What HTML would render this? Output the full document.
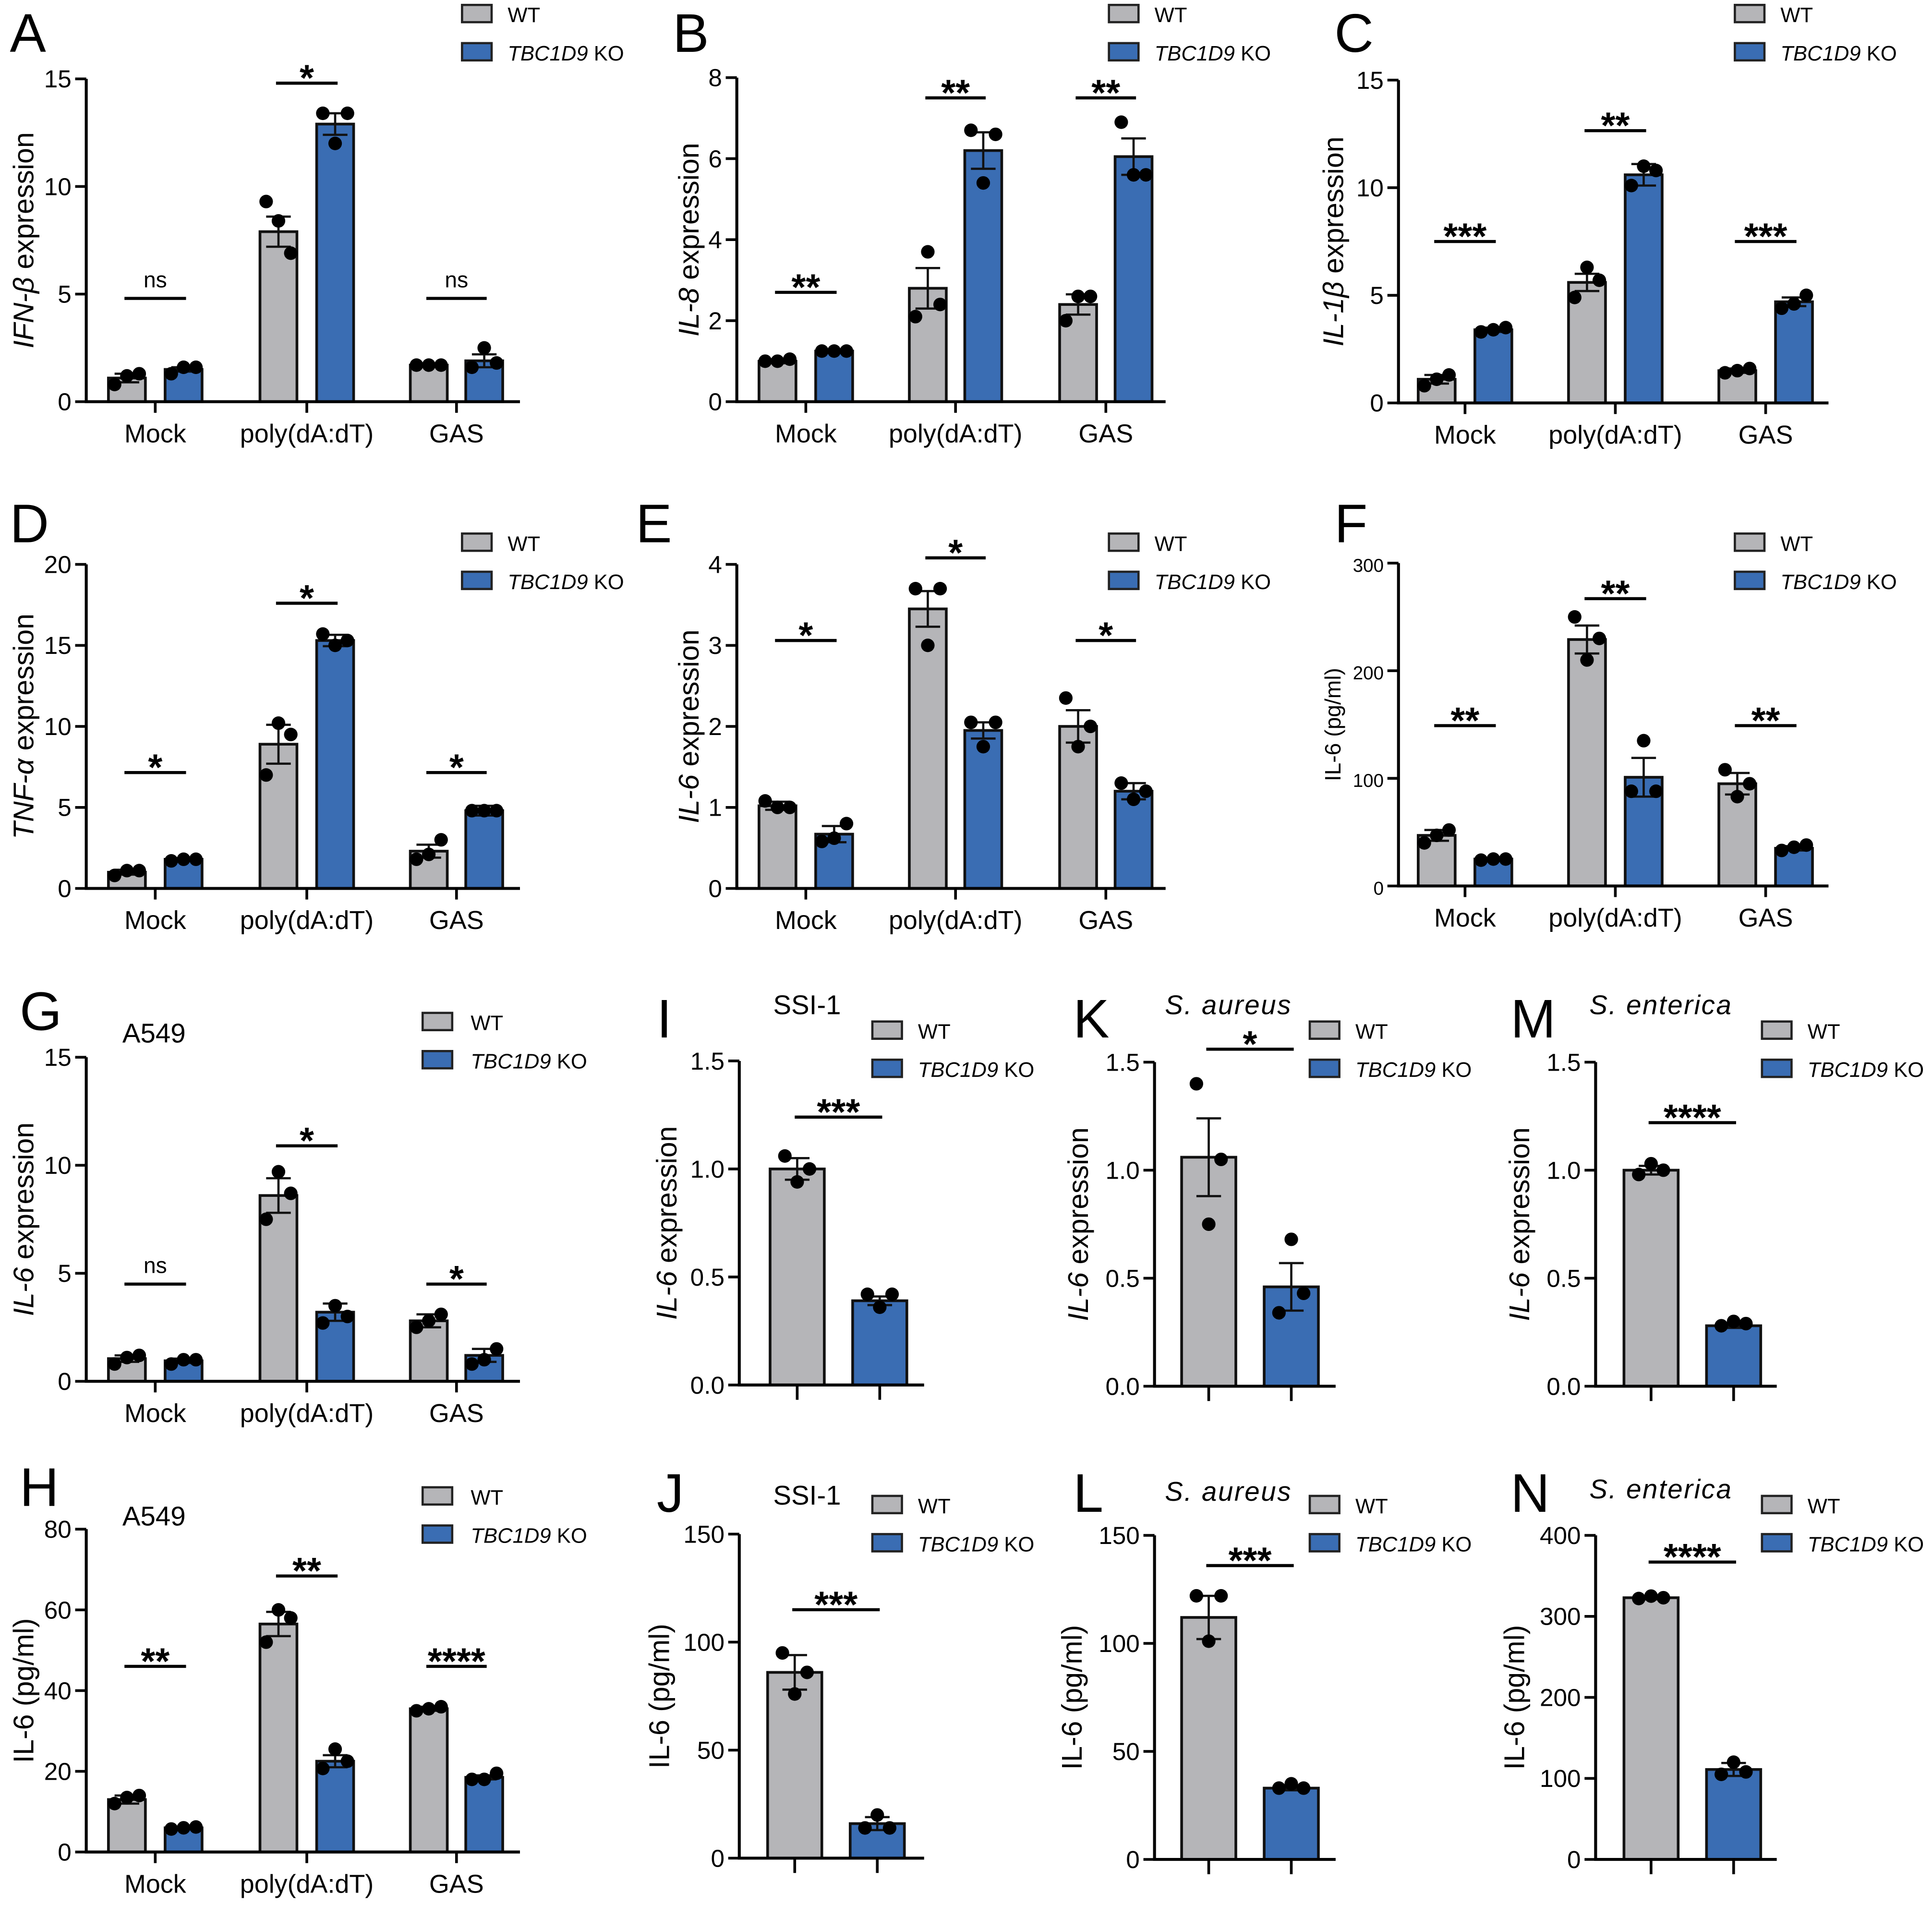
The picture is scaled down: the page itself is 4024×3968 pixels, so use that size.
<!DOCTYPE html>
<html><head><meta charset="utf-8">
<style>
html,body{margin:0;padding:0;background:#fff;}
svg{display:block;}
text{font-family:"Liberation Sans",Arial,sans-serif;fill:#000;}
</style></head>
<body>
<svg id="fig" width="4024" height="3968" viewBox="0 0 1568 1546" preserveAspectRatio="none" xmlns="http://www.w3.org/2000/svg"></svg>
<script>
// ---- data arrays ----
const cats3 = ["Mock","poly(dA:dT)","GAS"];
const A_wt=[1.1,7.9,1.7], A_ko=[1.5,12.9,1.9];
const A_wtPts=[[0.8,1.2,1.3],[9.3,8.4,6.9],[1.7,1.7,1.7]], A_koPts=[[1.3,1.6,1.6],[13.4,12.0,13.4],[1.6,2.5,1.8]];
const A_wtErr=[0.2,0.7,0.05], A_koErr=[0.1,0.5,0.3];
const A_sig=["ns","*","ns"], A_sigY=[4.8,14.8,4.8];
const B_wt=[1.0,2.8,2.4], B_ko=[1.25,6.2,6.05];
const B_wtPts=[[1,1,1.05],[2.1,3.7,2.4],[2.0,2.6,2.6]], B_koPts=[[1.25,1.25,1.25],[6.7,5.4,6.6],[6.9,5.6,5.6]];
const B_wtErr=[0.05,0.5,0.25], B_koErr=[0.03,0.45,0.45];
const B_sig=["**","**","**"], B_sigY=[2.7,7.5,7.5];
const C_wt=[1.1,5.6,1.5], C_ko=[3.4,10.6,4.7];
const C_wtPts=[[0.8,1.1,1.3],[4.9,6.3,5.7],[1.4,1.5,1.6]], C_koPts=[[3.3,3.4,3.5],[10.1,11.0,10.8],[4.4,4.6,5.0]];
const C_wtErr=[0.2,0.4,0.1], C_koErr=[0.1,0.5,0.2];
const C_sig=["***","**","***"], C_sigY=[7.5,12.65,7.5];
const D_wt=[1.0,8.9,2.3], D_ko=[1.8,15.3,4.8];
const D_wtPts=[[0.8,1.1,1.1],[7,10.2,9.5],[1.8,2.1,3.0]], D_koPts=[[1.7,1.8,1.8],[15.7,15.0,15.3],[4.8,4.8,4.8]];
const D_wtErr=[0.15,1.2,0.4], D_koErr=[0.07,0.35,0.3];
const D_sig=["*","*","*"], D_sigY=[7.15,17.6,7.15];
const E_wt=[1.02,3.45,2.0], E_ko=[0.67,1.95,1.2];
const E_wtPts=[[1.08,1.0,1.0],[3.7,3.0,3.7],[2.35,1.75,2.0]], E_koPts=[[0.58,0.62,0.8],[2.05,1.75,2.05],[1.3,1.1,1.2]];
const E_wtErr=[0.05,0.22,0.2], E_koErr=[0.1,0.1,0.1];
const E_sig=["*","*","*"], E_sigY=[3.06,4.08,3.06];
const F_wt=[47,229,95], F_ko=[25,101,35];
const F_wtPts=[[40,47,52],[250,210,230],[108,83,95]], F_koPts=[[24,25,25],[88,135,88],[33,36,38]];
const F_wtErr=[5,13,10], F_koErr=[1,18,2];
const F_sig=["**","**","**"], F_sigY=[149,267,149];
const G_wt=[1.05,8.6,2.8], G_ko=[0.95,3.2,1.2];
const G_wtPts=[[0.8,1.1,1.2],[7.5,9.7,8.7],[2.5,2.8,3.1]], G_koPts=[[0.8,1.0,1.0],[2.7,3.5,3.0],[0.8,1.0,1.5]];
const G_wtErr=[0.15,0.8,0.3], G_koErr=[0.1,0.4,0.3];
const G_sig=["ns","*","*"], G_sigY=[4.5,10.9,4.5];
const H_wt=[13,56.5,35.5], H_ko=[6,22.5,18.5];
const H_wtPts=[[12,13.5,14],[52,60,58],[35,35.5,36]], H_koPts=[[5.7,6,6.2],[20.7,25.5,22.5],[18,18,19.5]];
const H_wtErr=[1,3,0.5], H_koErr=[0.2,1.5,0.5];
const H_sig=["**","**","****"], H_sigY=[46,68.4,46];
const I_wt=[1.0], I_ko=[0.39], I_wtPts=[[1.06,0.94,1.0]], I_koPts=[[0.42,0.36,0.42]], I_wtErr=[0.05], I_koErr=[0.02], I_sig=["***"], I_sigY=[1.24];
const J_wt=[86], J_ko=[16], J_wtPts=[[95,76,86]], J_koPts=[[14,20,14]], J_wtErr=[8], J_koErr=[3], J_sig=["***"], J_sigY=[115];
const K_wt=[1.06], K_ko=[0.46], K_wtPts=[[1.4,0.75,1.05]], K_koPts=[[0.34,0.68,0.43]], K_wtErr=[0.18], K_koErr=[0.11], K_sig=["*"], K_sigY=[1.56];
const L_wt=[112], L_ko=[33], L_wtPts=[[122,101,122]], L_koPts=[[33,35,33]], L_wtErr=[10], L_koErr=[1], L_sig=["***"], L_sigY=[136];
const M_wt=[1.0], M_ko=[0.28], M_wtPts=[[0.98,1.03,1.0]], M_koPts=[[0.28,0.3,0.29]], M_wtErr=[0.02], M_koErr=[0.01], M_sig=["****"], M_sigY=[1.22];
const N_wt=[323], N_ko=[111], N_wtPts=[[322,325,323]], N_koPts=[[105,120,108]], N_wtErr=[2], N_koErr=[8], N_sig=["****"], N_sigY=[367];
const ticksA=[0,5,10,15], ticksB=[0,2,4,6,8], ticksD=[0,5,10,15,20], ticksE=[0,1,2,3,4], ticksF=[0,100,200,300];
const ticksH=[0,20,40,60,80], ticksI=[0,0.5,1.0,1.5], ticksJ=[0,50,100,150], ticksN=[0,100,200,300,400];

const NS="http://www.w3.org/2000/svg";
const svg=document.getElementById('fig');
function mk(tag,attrs,parent){const e=document.createElementNS(NS,tag);for(const k in attrs)e.setAttribute(k,attrs[k]);(parent||svg).appendChild(e);return e;}

const P3=[[103,149],[226,272],[348,393]];
const PB=[[631,677],[753,798],[875,920]];
const PC=[[1166,1212],[1288,1334],[1410,1456]];
const panels=[
 {id:"A",ax:70,yt:64,yb:326,xe:422,ymax:15,ticks:ticksA,dec:0,pos:P3,wt:A_wt,ko:A_ko,wp:A_wtPts,kp:A_koPts,we:A_wtErr,ke:A_koErr,sig:A_sig,sy:A_sigY,lg:[375,412,11],L:[8,42],yl:[19,"IFN-β"," expression"],cats:cats3,bw:30},
 {id:"B",ax:598,yt:63,yb:326,xe:946,ymax:8,ticks:ticksB,dec:0,pos:PB,wt:B_wt,ko:B_ko,wp:B_wtPts,kp:B_koPts,we:B_wtErr,ke:B_koErr,sig:B_sig,sy:B_sigY,lg:[900,937,11],L:[546,42],yl:[559,"IL-8"," expression"],cats:cats3,bw:30},
 {id:"C",ax:1135,yt:65,yb:327,xe:1484,ymax:15,ticks:ticksA,dec:0,pos:PC,wt:C_wt,ko:C_ko,wp:C_wtPts,kp:C_koPts,we:C_wtErr,ke:C_koErr,sig:C_sig,sy:C_sigY,lg:[1408,1445,11],L:[1083,42],yl:[1082,"IL-1β"," expression"],cats:cats3,bw:30},
 {id:"D",ax:70,yt:458,yb:721,xe:422,ymax:20,ticks:ticksD,dec:0,pos:P3,wt:D_wt,ko:D_ko,wp:D_wtPts,kp:D_koPts,we:D_wtErr,ke:D_koErr,sig:D_sig,sy:D_sigY,lg:[375,412,440],L:[8,440],yl:[19,"TNF-α"," expression"],cats:cats3,bw:30},
 {id:"E",ax:598,yt:458,yb:721,xe:946,ymax:4,ticks:ticksE,dec:0,pos:PB,wt:E_wt,ko:E_ko,wp:E_wtPts,kp:E_koPts,we:E_wtErr,ke:E_koErr,sig:E_sig,sy:E_sigY,lg:[900,937,440],L:[516,440],yl:[559,"IL-6"," expression"],cats:cats3,bw:30},
 {id:"F",ax:1135,yt:457,yb:719,xe:1484,ymax:300,ticks:ticksF,dec:0,pos:PC,wt:F_wt,ko:F_ko,wp:F_wtPts,kp:F_koPts,we:F_wtErr,ke:F_koErr,sig:F_sig,sy:F_sigY,lg:[1408,1445,440],L:[1083,440],yl:[1080,"","IL-6 (pg/ml)"],cats:cats3,bw:30,small:true},
 {id:"G",ax:70,yt:858,yb:1121,xe:422,ymax:15,ticks:ticksA,dec:0,pos:P3,wt:G_wt,ko:G_ko,wp:G_wtPts,kp:G_koPts,we:G_wtErr,ke:G_koErr,sig:G_sig,sy:G_sigY,lg:[343,382,829],L:[16,836],yl:[19,"IL-6"," expression"],cats:cats3,bw:30,title:["A549",125,846,false]},
 {id:"H",ax:70,yt:1241,yb:1503,xe:422,ymax:80,ticks:ticksH,dec:0,pos:P3,wt:H_wt,ko:H_ko,wp:H_wtPts,kp:H_koPts,we:H_wtErr,ke:H_koErr,sig:H_sig,sy:H_sigY,lg:[343,382,1214],L:[16,1222],yl:[19,"","IL-6 (pg/ml)"],cats:cats3,bw:30,title:["A549",125,1238,false]},
 {id:"I",ax:600,yt:861,yb:1124,xe:750,ymax:1.5,ticks:ticksI,dec:1,pos:[[647,714]],wt:I_wt,ko:I_ko,wp:I_wtPts,kp:I_koPts,we:I_wtErr,ke:I_koErr,sig:I_sig,sy:I_sigY,lg:[708,745,836],L:[533,842],yl:[541,"IL-6"," expression"],cats:null,bw:44,title:["SSI-1",655,823,false]},
 {id:"J",ax:600,yt:1245,yb:1508,xe:750,ymax:150,ticks:ticksJ,dec:0,pos:[[645,712]],wt:J_wt,ko:J_ko,wp:J_wtPts,kp:J_koPts,we:J_wtErr,ke:J_koErr,sig:J_sig,sy:J_sigY,lg:[708,745,1221],L:[533,1227],yl:[535,"","IL-6 (pg/ml)"],cats:null,bw:44,title:["SSI-1",655,1221,false]},
 {id:"K",ax:937,yt:862,yb:1125,xe:1084,ymax:1.5,ticks:ticksI,dec:1,pos:[[981,1048]],wt:K_wt,ko:K_ko,wp:K_wtPts,kp:K_koPts,we:K_wtErr,ke:K_koErr,sig:K_sig,sy:K_sigY,lg:[1063,1100,836],L:[871,842],yl:[875,"IL-6"," expression"],cats:null,bw:44,title:["S. aureus",997,823,true]},
 {id:"L",ax:937,yt:1246,yb:1509,xe:1084,ymax:150,ticks:ticksJ,dec:0,pos:[[981,1048]],wt:L_wt,ko:L_ko,wp:L_wtPts,kp:L_koPts,we:L_wtErr,ke:L_koErr,sig:L_sig,sy:L_sigY,lg:[1063,1100,1221],L:[871,1227],yl:[870,"","IL-6 (pg/ml)"],cats:null,bw:44,title:["S. aureus",997,1218,true]},
 {id:"M",ax:1295,yt:862,yb:1125,xe:1442,ymax:1.5,ticks:ticksI,dec:1,pos:[[1340,1407]],wt:M_wt,ko:M_ko,wp:M_wtPts,kp:M_koPts,we:M_wtErr,ke:M_koErr,sig:M_sig,sy:M_sigY,lg:[1430,1467,836],L:[1226,842],yl:[1233,"IL-6"," expression"],cats:null,bw:44,title:["S. enterica",1348,823,true]},
 {id:"N",ax:1295,yt:1246,yb:1509,xe:1442,ymax:400,ticks:ticksN,dec:0,pos:[[1340,1407]],wt:N_wt,ko:N_ko,wp:N_wtPts,kp:N_koPts,we:N_wtErr,ke:N_koErr,sig:N_sig,sy:N_sigY,lg:[1430,1467,1221],L:[1226,1227],yl:[1229,"","IL-6 (pg/ml)"],cats:null,bw:44,title:["S. enterica",1348,1216,true]}
];
const jit=[-10,0,10];
panels.forEach(p=>{
 const g=mk('g',{});
 
 
 const y=v=>p.yb-(v/p.ymax)*(p.yb-p.yt);
 const lt=mk('text',{x:p.L[0],y:p.L[1],'font-size':44},g); lt.textContent=p.id;
 
 
 if(p.title){const t=mk('text',{x:p.title[1],y:p.title[2],'font-size':22,'text-anchor':'middle','font-style':p.title[3]?'italic':'normal','letter-spacing':p.title[3]?'1':'0'},g);t.textContent=p.title[0];
  
  }
 p.pos.forEach((xy,i)=>{
  [[p.wt[i],p.wp[i],p.we[i],xy[0],'#b5b5b8','wt'],[p.ko[i],p.kp[i],p.ke[i],xy[1],'#3a6db3','ko']].forEach(b=>{
   const [v,pts,e,cx,col,nm]=b;
   const r=mk('rect',{x:cx-p.bw/2,y:y(v),width:p.bw,height:p.yb-y(v),fill:col,stroke:'#111','stroke-width':2.2},g);
   
   
   const eb=mk('path',{d:`M${cx} ${y(v+e)}V${y(v-e)}M${cx-10} ${y(v+e)}H${cx+10}M${cx-10} ${y(v-e)}H${cx+10}`,stroke:'#111','stroke-width':1.8,fill:'none'},g);
   
   
   pts.forEach((pv,k)=>{const c=mk('circle',{cx:cx+jit[k],cy:y(pv),r:5.5,fill:'#000'},g);
    
    });
  });
  const sl=mk('line',{x1:xy[0]-2,x2:xy[1]+2,y1:y(p.sy[i]),y2:y(p.sy[i]),stroke:'#000','stroke-width':2.5},g);
  
  
  const isNs=p.sig[i]=="ns";
  const st=mk('text',{x:(xy[0]+xy[1])/2,y:y(p.sy[i])+(isNs?-9:6),'font-size':isNs?18:30,'font-weight':isNs?'normal':'bold','text-anchor':'middle'},g);
  st.textContent=p.sig[i];
  
  
  if(p.cats){
   const cx=(xy[0]+xy[1])/2;
   mk('line',{x1:cx,x2:cx,y1:p.yb,y2:p.yb+9,stroke:'#000','stroke-width':2.2},g);
   const ct=mk('text',{x:cx,y:p.yb+33,'font-size':21,'text-anchor':'middle'},g);ct.textContent=p.cats[i];
   
   
  } else {
   xy.forEach(cx=>mk('line',{x1:cx,x2:cx,y1:p.yb,y2:p.yb+12,stroke:'#000','stroke-width':2.2},g));
  }
 });
 const ax=mk('path',{d:`M${p.ax} ${p.yt}V${p.yb}H${p.xe}`,stroke:'#000','stroke-width':2.4,fill:'none'},g);
 
 
 p.ticks.forEach(t=>{
  mk('line',{x1:p.ax-9,x2:p.ax,y1:y(t),y2:y(t),stroke:'#000','stroke-width':2.2},g);
  const tl=mk('text',{x:p.ax-12,y:y(t)+7,'font-size':p.small?15:20,'text-anchor':'end'},g);
  tl.textContent=t.toFixed(p.dec);
  
  
 });
 const yc=(p.yt+p.yb)/2;
 const yl=mk('text',{x:0,y:0,'font-size':p.small?18:23,'text-anchor':'middle',transform:`translate(${p.yl[0]+8},${yc}) rotate(-90)`},g);
 if(p.yl[1]){const s=mk('tspan',{'font-style':'italic'},yl);s.textContent=p.yl[1];}
 const s2=mk('tspan',{},yl);s2.textContent=p.yl[2];
 
 
 [['WT','#b5b5b8'],['KO','#3a6db3']].forEach((l,k)=>{
  const ly=p.lg[2]+k*31;
  const sq=mk('rect',{x:p.lg[0],y:ly-7,width:24,height:14,fill:l[1],stroke:'#222','stroke-width':1.8},g);
  
  
  const lt2=mk('text',{x:p.lg[1],y:ly+7,'font-size':17},g);
  if(k==0) lt2.textContent='WT'; else {const it=mk('tspan',{'font-style':'italic'},lt2);it.textContent='TBC1D9';const ko=mk('tspan',{},lt2);ko.textContent=' KO';}
  
  
 });
});
</script>
</body></html>
